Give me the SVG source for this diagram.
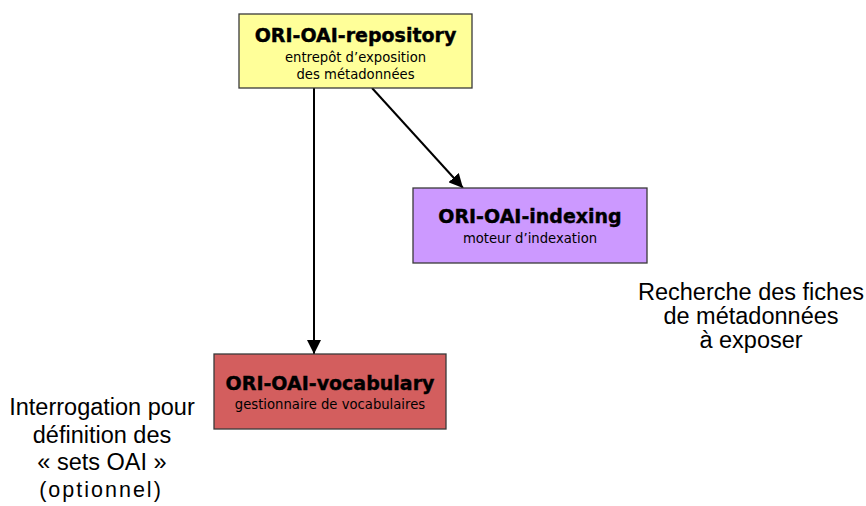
<svg xmlns="http://www.w3.org/2000/svg" width="866" height="506" viewBox="0 0 866 506">
<style>
.box{stroke:#3a3a3a;stroke-width:1.3}
.title{font-family:"DejaVu Sans",Verdana,sans-serif;font-weight:bold;font-size:19px;fill:#000;stroke:#000;stroke-width:0.4;text-anchor:middle}
.sub{font-family:"DejaVu Sans",Verdana,sans-serif;font-size:13.2px;fill:#000;text-anchor:middle}
.note{font-family:"Liberation Sans",Arial,sans-serif;font-size:23.5px;fill:#000;text-anchor:middle}
.edge{stroke:#000;stroke-width:2;fill:none}
</style>
<defs>
<marker id="arr" viewBox="0 0 14 14" refX="14" refY="7" markerWidth="14" markerHeight="14" markerUnits="userSpaceOnUse" orient="auto">
<path d="M0,0 L14,7 L0,14 Z" fill="#000"/>
</marker>
</defs>
<rect width="866" height="506" fill="#fff"/>
<g id="connectors">
<line class="edge" x1="314" y1="88" x2="314" y2="354" marker-end="url(#arr)"/>
<line class="edge" x1="372" y1="88" x2="463" y2="188" marker-end="url(#arr)"/>
</g>
<g id="repository">
<rect class="box" x="239" y="14" width="233" height="74" fill="#FFFF99"/>
<text class="title" x="355.5" y="42">ORI-OAI-repository</text>
<text class="sub" x="355.5" y="62">entrepôt d’exposition</text>
<text class="sub" x="355.5" y="79">des métadonnées</text>
</g>
<g id="indexing">
<rect class="box" x="413" y="188" width="234" height="75" fill="#CC99FF"/>
<text class="title" x="530" y="223">ORI-OAI-indexing</text>
<text class="sub" x="530" y="243">moteur d’indexation</text>
</g>
<g id="vocabulary">
<rect class="box" x="214" y="354" width="232" height="75" fill="#D35E5E"/>
<text class="title" x="330" y="390">ORI-OAI-vocabulary</text>
<text class="sub" x="330" y="409">gestionnaire de vocabulaires</text>
</g>
<g id="note-right">
<text class="note" x="751" y="300">Recherche des fiches</text>
<text class="note" x="751" y="324">de métadonnées</text>
<text class="note" x="751" y="348">à exposer</text>
</g>
<g id="note-left">
<text class="note" x="102" y="415">Interrogation pour</text>
<text class="note" x="102" y="443">définition des</text>
<text class="note" x="102" y="470">« sets OAI »</text>
<text class="note" x="101" y="497" style="font-size:21.5px;letter-spacing:2px">(optionnel)</text>
</g>
</svg>
